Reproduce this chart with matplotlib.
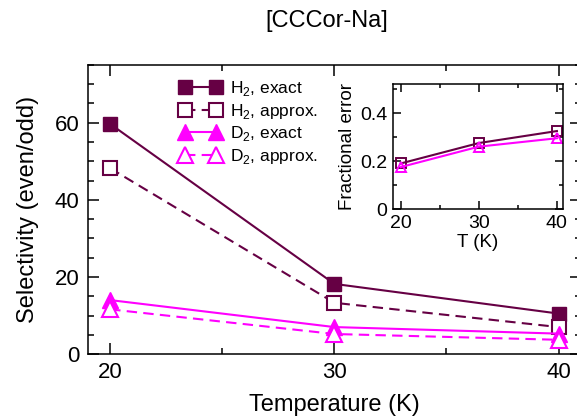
import matplotlib
matplotlib.use("Agg")
import matplotlib.pyplot as plt
from matplotlib.ticker import MultipleLocator

plt.rcParams['font.family'] = ['Liberation Sans', 'DejaVu Sans']
plt.rcParams['mathtext.fontset'] = 'custom'
plt.rcParams['mathtext.rm'] = 'Liberation Sans'

# data
temps = [20, 30, 40]
h2_exact = [59.7, 18.2, 10.5]
h2_approx = [48.2, 13.3, 7.0]
d2_exact = [14.0, 7.0, 5.3]
d2_approx = [11.6, 5.2, 3.7]

h2_err = [0.19, 0.275, 0.325]
d2_err = [0.175, 0.26, 0.295]

maroon = "#660044"
magenta = "#ff00ff"

fig = plt.figure(figsize=(5.77, 4.19), dpi=100)
ax = fig.add_axes([0.152, 0.155, 0.855, 0.69])

ax.plot(temps, h2_exact, c=maroon, lw=1.5, marker="s", ms=10, label="H$_2$, exact")
ax.plot(temps, h2_approx, c=maroon, lw=1.5, ls=(0, (5, 3)), marker="s", ms=10,
        mfc="white", mew=1.5, label="H$_2$, approx.")
ax.plot(temps, d2_exact, c=magenta, lw=1.5, marker="^", ms=11, label="D$_2$, exact")
ax.plot(temps, d2_approx, c=magenta, lw=1.5, ls=(0, (5, 3)), marker="^", ms=11,
        mfc="white", mew=1.5, label="D$_2$, approx.")

ax.set_xlim(19, 41)
ax.set_ylim(0, 75)
ax.set_xticks([20, 30, 40])
ax.xaxis.set_minor_locator(MultipleLocator(5))
ax.set_yticks([0, 20, 40, 60])
ax.yaxis.set_minor_locator(MultipleLocator(5))
ax.tick_params(which="both", direction="in", top=True, right=True, width=1.1, labelsize=16, pad=6)
ax.tick_params(which="major", length=8)
ax.tick_params(which="minor", length=4)
for s in ax.spines.values():
    s.set_linewidth(1.1)

ax.set_xlabel("Temperature (K)", fontsize=17, labelpad=8)
ax.set_ylabel("Selectivity (even/odd)", fontsize=17, labelpad=11)
fig.text(0.567, 0.95, "[CCCor-Na]", fontsize=17, ha="center", va="center")

leg = ax.legend(loc="upper left", bbox_to_anchor=(0.29, 0.84), bbox_transform=fig.transFigure,
                frameon=False, fontsize=12.5, numpoints=2, handlelength=2.4,
                labelspacing=0.2, handletextpad=0.5, borderpad=0.2)

# inset with fractional error
ins = fig.add_axes([0.681, 0.501, 0.295, 0.298])
ins.plot(temps, h2_err, c=maroon, lw=1.5, marker="s", ms=7, mfc="none", mew=1.4)
ins.plot(temps, d2_err, c=magenta, lw=1.5, marker="^", ms=7, mfc="none", mew=1.4)
ins.set_xlim(19, 40.8)
ins.set_ylim(0, 0.52)
ins.set_xticks([20, 30, 40])
ins.xaxis.set_minor_locator(MultipleLocator(5))
ins.set_yticks([0, 0.2, 0.4])
ins.set_yticklabels(["0", "0.2", "0.4"])
ins.yaxis.set_minor_locator(MultipleLocator(0.1))
ins.tick_params(which="both", direction="in", top=True, right=True, width=1.1, labelsize=14, pad=4)
ins.tick_params(which="major", length=6)
ins.tick_params(which="minor", length=3)
for s in ins.spines.values():
    s.set_linewidth(1.1)
ins.set_xlabel("T (K)", fontsize=13.5, labelpad=2)
ins.set_ylabel("Fractional error", fontsize=13.5, labelpad=3)

fig.savefig("out.png", dpi=100)
